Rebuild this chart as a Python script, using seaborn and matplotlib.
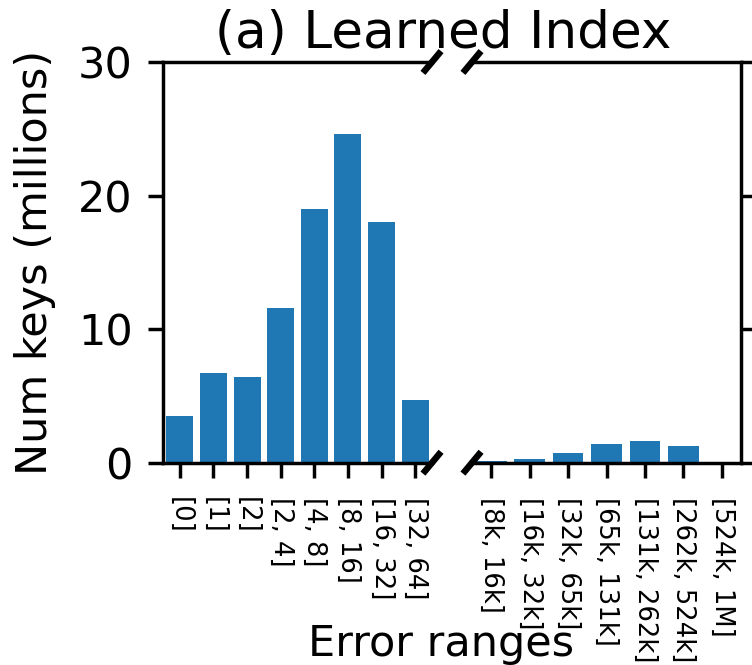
import numpy as np
import pandas as pd
import matplotlib
matplotlib.use("Agg")
import matplotlib.pyplot as plt
import seaborn as sns

# ---- data ----
left_cats = ["[0]", "[1]", "[2]", "[2, 4]", "[4, 8]", "[8, 16]", "[16, 32]", "[32, 64]"]
left_vals = [3.49, 6.73, 6.41, 11.55, 19.03, 24.61, 18.0, 4.71]
right_cats = ["[8k, 16k]", "[16k, 32k]", "[32k, 65k]", "[65k, 131k]",
              "[131k, 262k]", "[262k, 524k]", "[524k, 1M]"]
right_vals = [0.15, 0.3, 0.7, 1.4, 1.63, 1.25, 0.0]
y_ticks = [0, 10, 20, 30]
title = "(a) Learned Index"
ylabel = "Num keys (millions)"
xlabel = "Error ranges"

DPI = 310
W, H = 752, 665
fig = plt.figure(figsize=(W / DPI, H / DPI), dpi=DPI)

bottom = 1 - 462.7 / H
top = 1 - 62 / H
axl = fig.add_axes([163 / W, bottom, 269 / W, top - bottom])
axr = fig.add_axes([472 / W, bottom, 269 / W, top - bottom])

color = "#1f77b4"
dfl = pd.DataFrame({"cat": left_cats, "val": left_vals})
dfr = pd.DataFrame({"cat": right_cats, "val": right_vals})
sns.barplot(data=dfl, x="cat", y="val", ax=axl, color=color, saturation=1, width=0.8)
sns.barplot(data=dfr, x="cat", y="val", ax=axr, color=color, saturation=1, width=0.8)

for ax in (axl, axr):
    ax.set_ylim(0, 30)
    ax.set_yticks(y_ticks)
    ax.set_xlabel("")
    ax.set_ylabel("")
    ax.tick_params(axis="x", labelsize=6, pad=4.5)
    for lab in ax.get_xticklabels():
        lab.set_rotation(-90)

axl.set_xlim(-0.5, len(left_cats) - 0.5)
axr.set_xlim(-0.5, len(right_cats) - 0.5)

axl.spines["right"].set_visible(False)
axr.spines["left"].set_visible(False)
axr.yaxis.tick_right()
axr.tick_params(axis="y", labelright=False)
axl.set_ylabel(ylabel, fontsize=10, labelpad=5)

# break marks
dx, dy = 0.026, 0.021
kw = dict(transform=axl.transAxes, color="k", clip_on=False, lw=1.5)
axl.plot((1 - dx, 1 + dx), (-dy, dy), **kw)
axl.plot((1 - dx, 1 + dx), (1 - dy, 1 + dy), **kw)
kw.update(transform=axr.transAxes)
axr.plot((-dx, dx), (-dy, dy), **kw)
axr.plot((-dx, dx), (1 - dy, 1 + dy), **kw)

fig.text(443 / W, 1 - 48 / H, title, ha="center", va="baseline", fontsize=12)
fig.text(441 / W, 1 - 656 / H, xlabel, ha="center", va="baseline", fontsize=10)

fig.savefig("out.png", dpi=DPI)
